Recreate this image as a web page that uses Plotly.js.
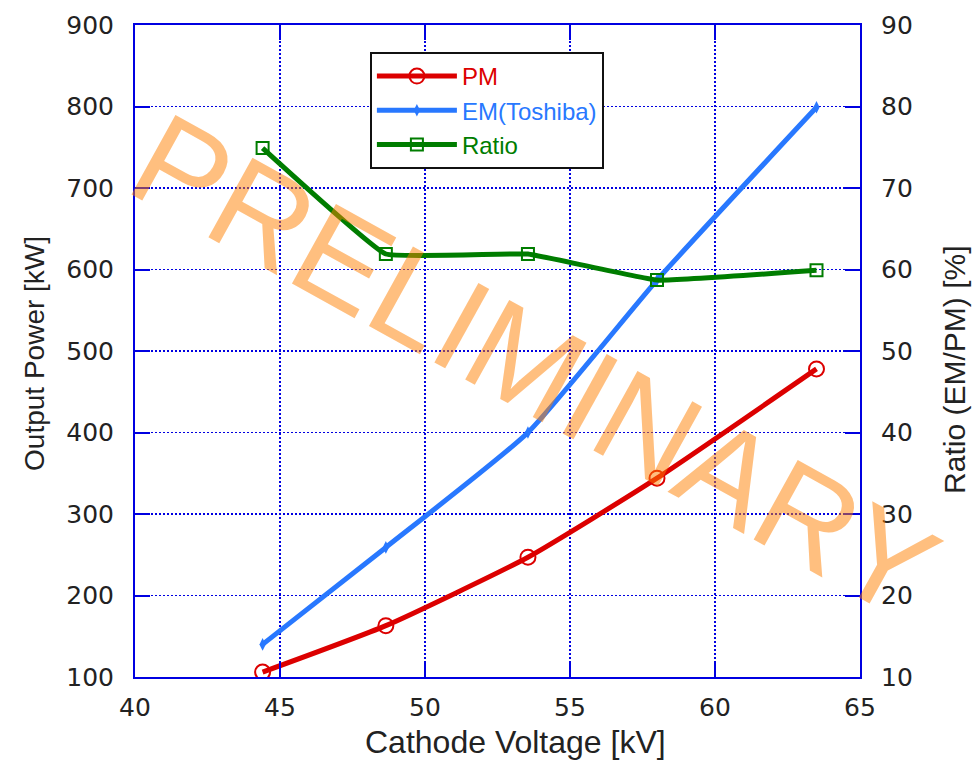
<!DOCTYPE html>
<html>
<head>
<meta charset="utf-8">
<script src="https://cdn.plot.ly/plotly-3.0.1.min.js"></script>
<style>html,body{margin:0;padding:0;background:#fff;}#chart{width:978px;height:760px;}</style>
</head>
<body>
<div id="chart"></div>
<script>
// Data
var voltage = [44.4, 48.65, 53.55, 58.0, 63.5];
var pmPower = [106, 163, 247, 344, 478];
var emPower = [140, 259, 400, 587, 799];
var ratioPct = [74.9, 61.9, 61.9, 58.7, 59.9];

var xTicks = [40, 45, 50, 55, 60, 65];
var yTicks = [100, 200, 300, 400, 500, 600, 700, 800, 900];
var y2Ticks = [10, 20, 30, 40, 50, 60, 70, 80, 90];

var seriesNames = ['PM', 'EM(Toshiba)', 'Ratio'];
var xTitle = 'Cathode Voltage [kV]';
var yTitle = 'Output Power [kW]';
var y2Title = 'Ratio (EM/PM) [%]';
var watermarkText = 'PRELIMINARY';

var red = 'rgb(220,0,0)';
var blue = 'rgb(40,120,255)';
var green = 'rgb(0,125,0)';
var axisBlue = 'rgb(0,0,225)';

var traces = [
  {
    x: voltage, y: pmPower, type: 'scatter', mode: 'lines+markers',
    name: '<span style="color:' + red + '">' + seriesNames[0] + '</span>',
    line: {color: red, width: 5, shape: 'spline', smoothing: 0.5},
    marker: {symbol: 'circle-open', size: 15, color: red, line: {width: 2, color: red}}
  },
  {
    x: voltage, y: emPower, type: 'scatter', mode: 'lines+markers',
    name: '<span style="color:' + blue + '">' + seriesNames[1] + '</span>',
    line: {color: blue, width: 5, shape: 'spline', smoothing: 0.5},
    marker: {symbol: 'diamond-tall', size: 9, color: blue}
  },
  {
    x: voltage, y: ratioPct, type: 'scatter', mode: 'lines+markers', yaxis: 'y2',
    name: '<span style="color:' + green + '">' + seriesNames[2] + '</span>',
    line: {color: green, width: 5, shape: 'spline', smoothing: 0.25},
    marker: {symbol: 'square-open', size: 12, color: green, line: {width: 2, color: green}}
  }
];

var tickFont = {family: 'DejaVu Sans, Verdana, sans-serif', size: 25, color: '#222'};
var titleFamily = 'Liberation Sans, Arial, sans-serif';

var layout = {
  width: 978, height: 760,
  margin: {l: 135, r: 118, t: 25, b: 83},
  paper_bgcolor: '#fff', plot_bgcolor: '#fff',
  showlegend: true,
  legend: {
    x: 0.324, y: 0.9586, xanchor: 'left', yanchor: 'top',
    bgcolor: '#fff', bordercolor: '#111', borderwidth: 2,
    font: {family: titleFamily, size: 24},
    itemwidth: 80, tracegroupgap: 0
  },
  xaxis: {
    range: [40, 65], tickvals: xTicks, ticktext: xTicks.map(String),
    showline: true, linecolor: axisBlue, linewidth: 2, mirror: 'ticks',
    ticks: 'inside', ticklen: 15, tickwidth: 2, tickcolor: axisBlue,
    showgrid: true, gridcolor: axisBlue, gridwidth: 1.3, griddash: '2px,2px',
    zeroline: false, tickfont: tickFont, ticklabelstandoff: 7
  },
  yaxis: {
    range: [100, 900], tickvals: yTicks, ticktext: yTicks.map(String),
    showline: true, linecolor: axisBlue, linewidth: 2, mirror: false,
    ticks: 'inside', ticklen: 15, tickwidth: 2, tickcolor: axisBlue,
    showgrid: true, gridcolor: axisBlue, gridwidth: 1.3, griddash: '2px,2px',
    zeroline: false, tickfont: tickFont, ticklabelstandoff: 14
  },
  yaxis2: {
    range: [10, 90], tickvals: y2Ticks, ticktext: y2Ticks.map(String),
    overlaying: 'y', side: 'right',
    showline: true, linecolor: axisBlue, linewidth: 2,
    ticks: 'inside', ticklen: 15, tickwidth: 2, tickcolor: axisBlue,
    showgrid: false, zeroline: false, tickfont: tickFont, ticklabelstandoff: 14
  },
  annotations: [
    {
      text: xTitle, xref: 'paper', yref: 'paper', x: 0.5255, y: -0.0997,
      xanchor: 'center', yanchor: 'middle', showarrow: false,
      font: {family: titleFamily, size: 32, color: '#222'}
    },
    {
      text: yTitle, xref: 'paper', yref: 'paper', x: -0.138, y: 0.497,
      xanchor: 'center', yanchor: 'middle', showarrow: false, textangle: -90,
      font: {family: titleFamily, size: 28, color: '#222'}
    },
    {
      text: y2Title, xref: 'paper', yref: 'paper', x: 1.131, y: 0.471,
      xanchor: 'center', yanchor: 'middle', showarrow: false, textangle: -90,
      font: {family: titleFamily, size: 30, color: '#222'}
    },
    {
      text: watermarkText, xref: 'paper', yref: 'paper', x: 0.55, y: 0.477,
      xanchor: 'center', yanchor: 'middle', showarrow: false, textangle: 29,
      font: {family: 'Liberation Sans, Arial, sans-serif', size: 132, color: 'rgba(255,128,0,0.5)'}
    }
  ]
};

Plotly.newPlot('chart', traces, layout, {displayModeBar: false, staticPlot: true});
</script>
</body>
</html>
